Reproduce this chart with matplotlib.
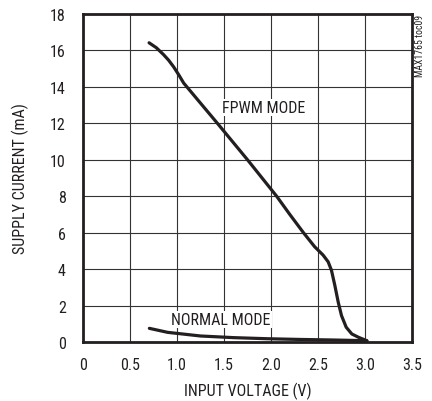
import matplotlib
matplotlib.use("Agg")
import matplotlib.pyplot as plt
from matplotlib import font_manager

# Datos (V, mA)
fpwm_v = [0.703, 0.78, 0.857, 0.91, 0.964, 1.02, 1.071, 1.43, 1.75,
          2.06, 2.20, 2.345, 2.464, 2.554, 2.608, 2.643, 2.679,
          2.715, 2.75, 2.80, 2.86, 2.93, 3.02]
fpwm_i = [16.42, 16.15, 15.77, 15.47, 15.1, 14.65, 14.21, 12.0, 10.0,
          8.0, 7.0, 6.0, 5.23, 4.77, 4.40, 3.94, 3.11,
          2.19, 1.45, 0.81, 0.44, 0.26, 0.07]
normal_v = [0.706, 0.9, 1.25, 1.6, 1.96, 2.31, 2.66, 3.02]
normal_i = [0.75, 0.53, 0.33, 0.24, 0.18, 0.14, 0.11, 0.07]

x_ticks = [0, 0.5, 1.0, 1.5, 2.0, 2.5, 3.0, 3.5]
x_labels = ["0", "0.5", "1.0", "1.5", "2.0", "2.5", "3.0", "3.5"]
y_ticks = list(range(0, 19, 2))

nombres = {f.name for f in font_manager.fontManager.ttflist}
estrechas = [n for n in ("Liberation Sans Narrow", "Roboto Condensed", "Roboto")
             if n in nombres]
plt.rcParams["font.family"] = estrechas + ["Liberation Sans", "DejaVu Sans"]

TINTA = "#231f20"
fig = plt.figure(figsize=(4.32, 4.02), dpi=100)
ax = fig.add_axes([83 / 432, 59 / 402, 329 / 432, 328 / 402])

ax.plot(fpwm_v, fpwm_i, color=TINTA, lw=2.3, solid_capstyle="round",
        solid_joinstyle="round")
ax.plot(normal_v, normal_i, color=TINTA, lw=2.3, solid_capstyle="round",
        solid_joinstyle="round")

ax.set_xlim(0, 3.5)
ax.set_ylim(0, 18)
ax.set_xticks(x_ticks)
ax.set_xticklabels(x_labels)
ax.set_yticks(y_ticks)
ax.grid(True, color="#333333", lw=0.8)
ax.set_axisbelow(True)
ax.tick_params(length=0, labelsize=11.5, colors=TINTA)
ax.tick_params(axis="x", pad=11)
ax.tick_params(axis="y", pad=12.5)
for s in ax.spines.values():
    s.set_linewidth(2)
    s.set_color(TINTA)

ax.set_xlabel("INPUT VOLTAGE (V)", fontsize=11.5, color=TINTA)
ax.set_ylabel("SUPPLY CURRENT (mA)", fontsize=11.5, color=TINTA)
ax.xaxis.set_label_coords(0.5, -0.148)
ax.xaxis.label.set_va("center")
ax.yaxis.set_label_coords(-0.19, 0.5)
ax.yaxis.label.set_va("center")

ax.text(1.92, 12.87, "FPWM MODE", fontsize=11.5, va="center", ha="center",
        color=TINTA, bbox=dict(facecolor="white", edgecolor="none", pad=0.5))
ax.text(1.47, 1.23, "NORMAL MODE", fontsize=11.5, va="center", ha="center",
        color=TINTA, bbox=dict(facecolor="white", edgecolor="none", pad=0.5))
fig.text(420 / 432, 1 - 15 / 402, "MAX1765 toc09", rotation=90, fontsize=7,
         ha="center", va="top", color=TINTA)

fig.savefig("out.png", dpi=100)
